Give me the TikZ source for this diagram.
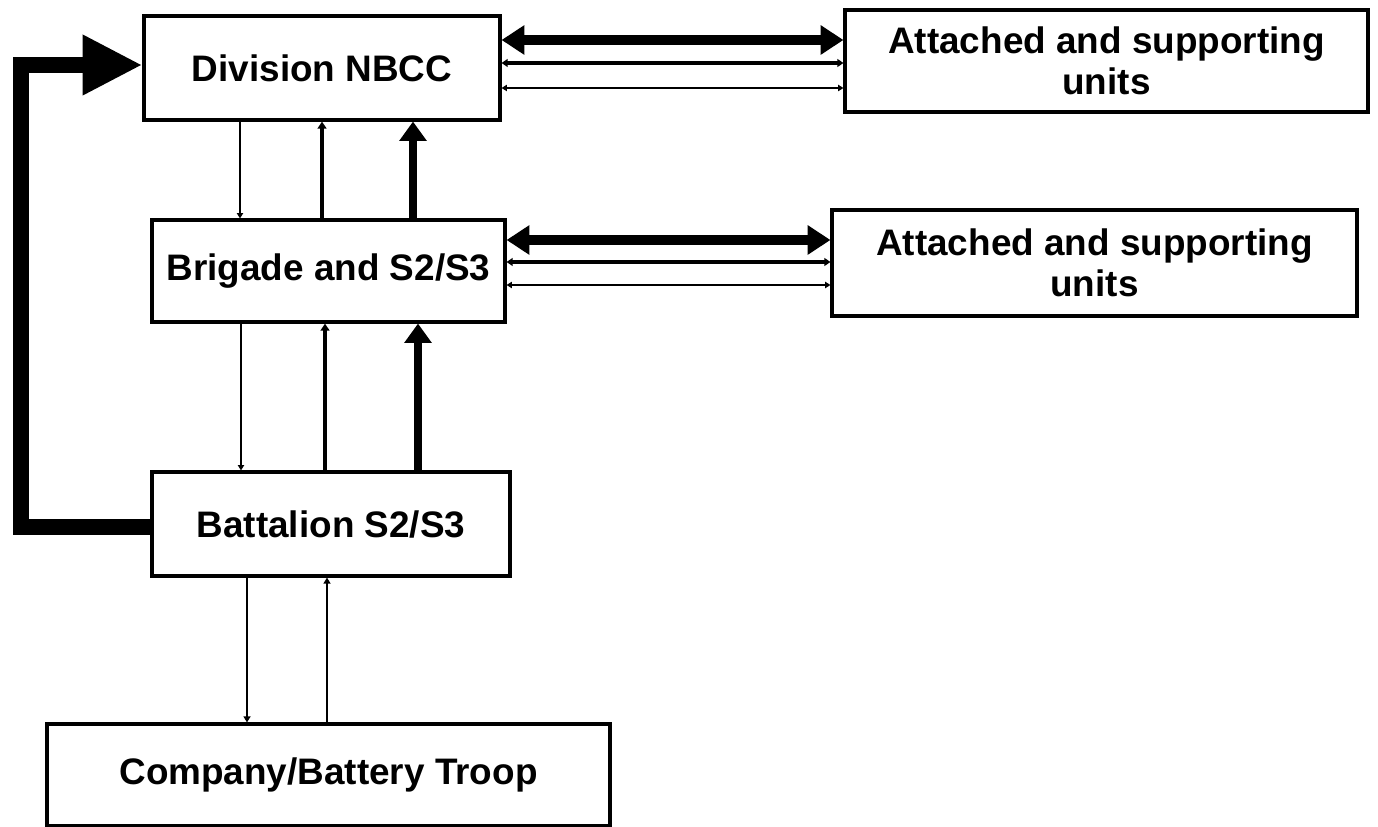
\documentclass[tikz,border=0pt]{standalone}
\usepackage{fontspec}
\setmainfont{Liberation Sans}
\usetikzlibrary{arrows.meta}
\begin{document}
\begin{tikzpicture}[x=0.02cm,y=-0.02cm,
  box/.style={draw,line width=1.8pt,inner sep=0pt,align=center,
    font=\fontsize{21}{23.5}\selectfont\bfseries},
  thinar/.style={line width=1.1pt},
  medar/.style={line width=2.5pt},
  medhor/.style={line width=2pt,{Triangle[length=3.5pt,width=4.5pt]}-{Triangle[length=3.5pt,width=4.5pt]}},
  thinhor/.style={line width=1.2pt,{Triangle[length=3pt,width=3.5pt]}-{Triangle[length=3pt,width=3.5pt]}},
  thickar/.style={line width=4.2pt,-{Triangle[length=11pt,width=15pt]}},
  thickdbl/.style={line width=5.5pt,{Triangle[length=13pt,width=16pt]}-{Triangle[length=13pt,width=16pt]}},
  loopar/.style={line width=9.6pt,line join=miter,-{Triangle[length=34pt,width=32pt]}}]
\useasboundingbox (0,0) rectangle (1378,827);
\node[box,minimum width=7.12cm,minimum height=2.08cm] (div) at (322,68) {Division NBCC};
\node[box,minimum width=10.46cm,minimum height=2.04cm] (att1) at (1106.5,61) {Attached and supporting\\units};
\node[box,minimum width=7.06cm,minimum height=2.04cm] (brig) at (328.5,271) {Brigade and S2/S3};
\node[box,minimum width=10.5cm,minimum height=2.12cm] (att2) at (1094.5,263) {Attached and supporting\\units};
\node[box,minimum width=7.16cm,minimum height=2.08cm] (bat) at (331,524) {Battalion S2/S3};
\node[box,minimum width=11.26cm,minimum height=2.04cm] (comp) at (328.5,775) {Company/Battery Troop};
% x positions of vertical arrows
\coordinate (a1) at (240,0); \coordinate (a2) at (322,0); \coordinate (a3) at (413,0);
\coordinate (b1) at (241,0); \coordinate (b2) at (325,0); \coordinate (b3) at (418,0);
\coordinate (c1) at (247,0); \coordinate (c2) at (327,0);
% y positions of horizontal arrows
\coordinate (h1) at (0,40); \coordinate (h2) at (0,63); \coordinate (h3) at (0,88);
\coordinate (k1) at (0,240); \coordinate (k2) at (0,262); \coordinate (k3) at (0,285);
% Division - Brigade
\draw[thinar,-{Triangle[length=3pt,width=3.5pt]}] (div.south -| a1) -- (brig.north -| a1);
\draw[medar,-{Triangle[length=4pt,width=5pt]}] (brig.north -| a2) -- (div.south -| a2);
\draw[thickar] (brig.north -| a3) -- (div.south -| a3);
% Brigade - Battalion
\draw[thinar,-{Triangle[length=3pt,width=3.5pt]}] (brig.south -| b1) -- (bat.north -| b1);
\draw[medar,-{Triangle[length=4pt,width=5pt]}] (bat.north -| b2) -- (brig.south -| b2);
\draw[thickar] (bat.north -| b3) -- (brig.south -| b3);
% Battalion - Company
\draw[thinar,-{Triangle[length=3.5pt,width=4pt]}] (bat.south -| c1) -- (comp.north -| c1);
\draw[line width=1.5pt,-{Triangle[length=3.5pt,width=4pt]}] (comp.north -| c2) -- (bat.south -| c2);
% Division - Attached 1
\draw[thickdbl] (div.east |- h1) -- (att1.west |- h1);
\draw[medhor] (div.east |- h2) -- (att1.west |- h2);
\draw[thinhor] (div.east |- h3) -- (att1.west |- h3);
% Brigade - Attached 2
\draw[thickdbl] (brig.east |- k1) -- (att2.west |- k1);
\draw[medhor] (brig.east |- k2) -- (att2.west |- k2);
\draw[thinhor] (brig.east |- k3) -- (att2.west |- k3);
% feedback loop
\coordinate (l1) at (21,527); \coordinate (l2) at (21,65);
\draw[loopar] (bat.west |- l1) -- (l1) -- (l2) -- (div.west |- l2);
\end{tikzpicture}
\end{document}
